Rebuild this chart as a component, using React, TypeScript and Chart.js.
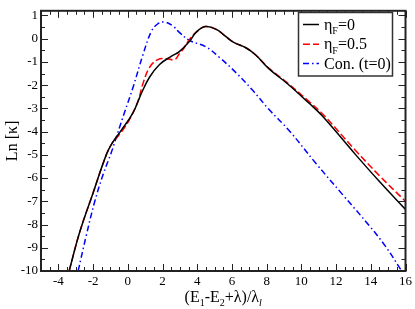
import React, { useEffect, useRef } from 'react';
import { Chart, registerables } from 'chart.js';

Chart.register(...registerables);

// ---- data ----
const blackX = [-3.38, -2.76, -2.0, -1.23, -0.9, -0.43, 0.3, 0.78, 1.25, 1.83, 2.5, 2.97, 3.55, 3.93, 4.47, 5.1, 5.6, 6.1, 6.8, 7.37, 8.14, 9.2, 10.43, 11.2, 13.11, 14.5, 16];
const blackY = [-10, -8.3, -6.64, -4.98, -4.5, -4.0, -3.19, -2.36, -1.66, -1.11, -0.76, -0.56, -0.12, 0.27, 0.52, 0.4, 0.12, -0.16, -0.39, -0.7, -1.3, -1.94, -2.77, -3.32, -4.98, -6.15, -7.35];

const redX = [-3.38, -2.76, -2.0, -1.23, -0.9, -0.66, -0.3, 0.11, 0.58, 0.87, 1.25, 1.73, 2.21, 2.69, 2.97, 3.2, 3.45, 3.93, 4.47, 5.1, 5.6, 6.1, 6.8, 7.37, 8.14, 9.2, 10.43, 11.2, 13.11, 14.5, 16];
const redY = [-10, -8.3, -6.64, -4.98, -4.5, -4.29, -3.95, -3.46, -2.7, -1.94, -1.24, -0.9, -0.86, -0.9, -0.65, -0.45, -0.14, 0.27, 0.52, 0.4, 0.12, -0.16, -0.39, -0.7, -1.28, -1.9, -2.7, -3.22, -4.8, -5.9, -7.0];

const blueX = [-2.86, -2.4, -1.9, -1.4, -0.95, -0.6, -0.2, 0.3, 0.87, 1.35, 1.7, 2.1, 2.59, 2.97, 3.55, 4.5, 5.27, 6.23, 7.18, 8.14, 9.29, 10.82, 12.34, 13.88, 14.83, 15.69, 16];
const blueY = [-10, -8.5, -7.0, -5.8, -4.9, -4.1, -3.2, -2.1, -0.7, 0.3, 0.62, 0.72, 0.55, 0.27, -0.07, -0.35, -0.8, -1.46, -2.21, -3.05, -3.95, -5.35, -6.68, -8.02, -8.92, -9.9, -10.3];

const xTickValues = [-4, -2, 0, 2, 4, 6, 8, 10, 12, 14, 16];
const yTickValues = [-10, -9, -8, -7, -6, -5, -4, -3, -2, -1, 0, 1];

const X_MIN = -5, X_MAX = 16, Y_MIN = -10, Y_MAX = 1.2;
const X_MAJOR = 2, Y_MAJOR = 1, MINOR = 0.5;

const SERIF = "'Liberation Serif', 'Times New Roman', serif";

type Seg = { t: string; sub?: boolean; italic?: boolean };

function drawRich(ctx: CanvasRenderingContext2D, segs: Seg[], x: number, y: number, size: number, align: 'left' | 'center') {
  const subSize = Math.round(size * 0.65);
  const fontFor = (s: Seg) => `${s.italic ? 'italic ' : ''}${s.sub ? subSize : size}px ${SERIF}`;
  let total = 0;
  for (const s of segs) { ctx.font = fontFor(s); total += ctx.measureText(s.t).width; }
  let cx = align === 'center' ? x - total / 2 : x;
  ctx.textAlign = 'left';
  ctx.textBaseline = 'alphabetic';
  for (const s of segs) {
    ctx.font = fontFor(s);
    ctx.fillText(s.t, cx, s.sub ? y + size * 0.28 : y);
    cx += ctx.measureText(s.t).width;
  }
}

const decorPlugin = {
  id: 'decor',
  afterDraw(chart: any) {
    const { ctx, chartArea: ca, scales } = chart;
    const xs = scales.x, ys = scales.y;
    ctx.save();
    ctx.strokeStyle = '#222';
    ctx.lineWidth = 1;
    ctx.beginPath();
    const nx = Math.round((X_MAX - X_MIN) / MINOR);
    for (let i = 0; i <= nx; i++) {
      const v = X_MIN + i * MINOR;
      const px = Math.round(xs.getPixelForValue(v)) + 0.5;
      const major = Math.abs(v / X_MAJOR - Math.round(v / X_MAJOR)) < 1e-6;
      const len = major ? 7 : 4;
      ctx.moveTo(px, ca.bottom); ctx.lineTo(px, ca.bottom - len);
      ctx.moveTo(px, ca.top); ctx.lineTo(px, ca.top + len);
    }
    const ny = Math.round((Y_MAX - Y_MIN) / MINOR);
    for (let i = 0; i <= ny; i++) {
      const v = Y_MIN + i * MINOR;
      if (v > Y_MAX) break;
      const py = Math.round(ys.getPixelForValue(v)) + 0.5;
      const major = Math.abs(v / Y_MAJOR - Math.round(v / Y_MAJOR)) < 1e-6;
      const len = major ? 7 : 4;
      ctx.moveTo(ca.left, py); ctx.lineTo(ca.left + len, py);
      ctx.moveTo(ca.right, py); ctx.lineTo(ca.right - len, py);
    }
    ctx.stroke();

    // frame
    ctx.lineWidth = 2;
    ctx.strokeStyle = '#222';
    ctx.strokeRect(ca.left, ca.top, ca.right - ca.left, ca.bottom - ca.top);

    // axis titles
    ctx.fillStyle = '#000';
    drawRich(ctx, [
      { t: '(E' }, { t: '1', sub: true }, { t: '-E' }, { t: '2', sub: true },
      { t: '+λ)/λ' }, { t: 'l', sub: true, italic: true },
    ], (ca.left + ca.right) / 2, 302, 16, 'center');

    ctx.save();
    ctx.translate(17, (ca.top + ca.bottom) / 2);
    ctx.rotate(-Math.PI / 2);
    ctx.font = `16px ${SERIF}`;
    ctx.textAlign = 'center';
    ctx.textBaseline = 'alphabetic';
    ctx.fillText('Ln [κ]', 0, 0);
    ctx.restore();

    // legend
    const lx = 298.5, ly = 12.5, lw = 94, lh = 63.5;
    ctx.fillStyle = '#fff';
    ctx.fillRect(lx, ly, lw, lh);
    ctx.lineWidth = 1.5;
    ctx.strokeStyle = '#333';
    ctx.strokeRect(lx, ly, lw, lh);
    const ds = chart.data.datasets;
    const rows = [24.5, 44.2, 63.5];
    const labels: Seg[][] = [
      [{ t: 'η' }, { t: 'F', sub: true }, { t: '=0' }],
      [{ t: 'η' }, { t: 'F', sub: true }, { t: '=0.5' }],
      [{ t: 'Con. (t=0)' }],
    ];
    rows.forEach((ry, i) => {
      ctx.save();
      ctx.strokeStyle = ds[i].borderColor;
      ctx.lineWidth = ds[i].borderWidth;
      ctx.setLineDash(ds[i].borderDash || []);
      ctx.beginPath();
      ctx.moveTo(303, ry); ctx.lineTo(319, ry);
      ctx.stroke();
      ctx.restore();
      ctx.fillStyle = '#000';
      drawRich(ctx, labels[i], 324, ry + 5, 16, 'left');
    });
    ctx.restore();
  },
};

const toPts = (xs: number[], ys: number[]) => xs.map((x, i) => ({ x, y: ys[i] }));

export default function App() {
  const ref = useRef<HTMLCanvasElement | null>(null);
  useEffect(() => {
    if (!ref.current) return;
    const tickFont = { family: SERIF, size: 13 };
    const common = { borderWidth: 1.5, pointRadius: 0, tension: 0.4 };
    const chart = new Chart(ref.current, {
      type: 'line',
      data: {
        datasets: [
          { label: 'ηF=0', data: toPts(blackX, blackY), borderColor: '#000000', borderDash: [], ...common },
          { label: 'ηF=0.5', data: toPts(redX, redY), borderColor: '#ff0000', borderDash: [7, 3], ...common },
          { label: 'Con. (t=0)', data: toPts(blueX, blueY), borderColor: '#0000ff', borderDash: [6, 3, 1.5, 3], ...common },
        ] as any,
      },
      options: {
        animation: false,
        responsive: false,
        devicePixelRatio: 1,
        layout: { padding: { top: 1, right: 8, left: 0, bottom: 0 } },
        plugins: { legend: { display: false }, tooltip: { enabled: false } },
        scales: {
          x: {
            type: 'linear', min: X_MIN, max: X_MAX,
            grid: { display: false, drawTicks: false },
            border: { display: false },
            ticks: { font: tickFont, color: '#000', padding: 3, maxRotation: 0, autoSkip: false },
            afterBuildTicks: (s: any) => { s.ticks = xTickValues.map((v) => ({ value: v })); },
            afterFit: (s: any) => { s.height = 38; },
          },
          y: {
            type: 'linear', min: Y_MIN, max: Y_MAX,
            grid: { display: false, drawTicks: false },
            border: { display: false },
            ticks: { font: tickFont, color: '#000', padding: 3, autoSkip: false },
            afterBuildTicks: (s: any) => { s.ticks = yTickValues.map((v) => ({ value: v })); },
            afterFit: (s: any) => { s.width = 41; },
          },
        },
      } as any,
      plugins: [decorPlugin],
    });
    return () => chart.destroy();
  }, []);
  return (
    <div style={{ position: 'fixed', left: 0, top: 0, width: 415, height: 309, background: '#fff' }}>
      <canvas ref={ref} width={415} height={309} style={{ width: 415, height: 309, display: 'block' }} />
    </div>
  );
}
